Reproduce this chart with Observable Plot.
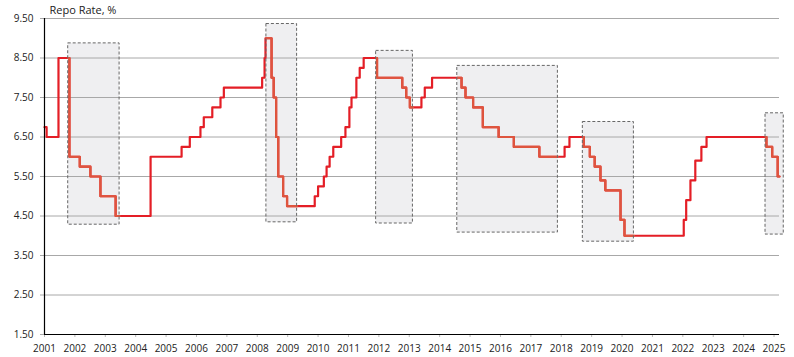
<!DOCTYPE html>
<html>
<head>
<meta charset="utf-8">
<script src="https://cdn.jsdelivr.net/npm/d3@7"></script>
<script src="https://cdn.jsdelivr.net/npm/@observablehq/plot@0.6"></script>
<style>
  html, body { margin: 0; padding: 0; background: #fff; }
  #chart { width: 794px; height: 357px; overflow: hidden; }
</style>
</head>
<body>
<div id="chart"></div>
<script>
// Step dates (decimal year on the chart axis) and repo rate (%) from each date on
const stepYears = [2001.00, 2001.07, 2001.46, 2001.82, 2002.16, 2002.51, 2002.84, 2003.34, 2004.49,
  2005.51, 2005.78, 2006.13, 2006.24, 2006.52, 2006.79, 2006.90,
  2008.16, 2008.24, 2008.27, 2008.47, 2008.54, 2008.62, 2008.69, 2008.85, 2008.98,
  2009.89, 2010.00, 2010.19, 2010.28, 2010.38, 2010.50, 2010.76, 2010.90, 2011.03, 2011.10, 2011.26, 2011.37, 2011.50,
  2011.94, 2012.77, 2012.90, 2013.02, 2013.40, 2013.51, 2013.75,
  2014.72, 2014.85, 2015.10, 2015.42, 2015.94, 2016.44, 2017.28,
  2018.11, 2018.27, 2018.74, 2018.94, 2019.10, 2019.29, 2019.45, 2019.95, 2020.08,
  2022.03, 2022.11, 2022.25, 2022.41, 2022.61, 2022.78,
  2024.75, 2024.94, 2025.12, 2025.18];
const stepRates = [6.75, 6.50, 8.50, 6.00, 5.75, 5.50, 5.00, 4.50, 6.00,
  6.25, 6.50, 6.75, 7.00, 7.25, 7.50, 7.75,
  8.00, 8.50, 9.00, 8.00, 7.50, 6.50, 5.50, 5.00, 4.75,
  5.00, 5.25, 5.50, 5.75, 6.00, 6.25, 6.50, 6.75, 7.25, 7.50, 8.00, 8.25, 8.50,
  8.00, 7.75, 7.50, 7.25, 7.50, 7.75, 8.00,
  7.75, 7.50, 7.25, 6.75, 6.50, 6.25, 6.00,
  6.25, 6.50, 6.25, 6.00, 5.75, 5.40, 5.15, 4.40, 4.00,
  4.40, 4.90, 5.40, 5.90, 6.25, 6.50,
  6.25, 6.00, 5.50, 5.50];

// Shaded easing periods (dashed boxes)
const boxStart = [2001.78, 2008.30, 2011.91, 2014.58, 2018.71, 2024.72];
const boxEnd   = [2003.47, 2009.31, 2013.12, 2017.89, 2020.39, 2025.32];
const boxLow   = [4.28, 4.34, 4.31, 4.08, 3.85, 4.03];
const boxHigh  = [8.87, 9.36, 8.68, 8.30, 6.88, 7.10];

const yTicks = [1.5, 2.5, 3.5, 4.5, 5.5, 6.5, 7.5, 8.5, 9.5];
const xTicks = d3.range(2001, 2026);
const title = "Repo Rate, %";

const series = stepYears.map((t, i) => ({t, r: stepRates[i]}));
const boxes = boxStart.map((s, i) => ({x1: s, x2: boxEnd[i], y1: boxLow[i], y2: boxHigh[i]}));

// rate in force at time t (step-after)
function rateAt(t) {
  let r = stepRates[0];
  for (let i = 0; i < stepYears.length; i++) if (stepYears[i] <= t) r = stepRates[i];
  return r;
}
const tEnd = stepYears[stepYears.length - 1];
// portions of the series that lie inside each box
const inBox = boxes.flatMap((b, k) => {
  const a = b.x1, e = Math.min(b.x2, tEnd);
  const pts = [{t: a, r: rateAt(a), k}];
  series.forEach(p => { if (p.t > a && p.t < e) pts.push({t: p.t, r: p.r, k}); });
  pts.push({t: e, r: rateAt(e), k});
  return pts;
});

const chart = Plot.plot({
  width: 794,
  height: 357,
  marginLeft: 44,
  marginRight: 15,
  marginTop: 18,
  marginBottom: 23,
  style: {fontFamily: "'Open Sans', sans-serif", fontSize: "10px", color: "#222", background: "#fff"},
  x: {domain: [2001, 2025.18], label: null},
  y: {domain: [1.5, 9.5], label: null},
  marks: [
    Plot.rect(boxes, {x1: "x1", x2: "x2", y1: "y1", y2: "y2", fill: "#efeff1"}),
    Plot.gridY(yTicks.slice(1), {stroke: "#a8a8a8", strokeOpacity: 1, strokeWidth: 1}),
    Plot.axisY(yTicks, {tickFormat: d3.format(".2f"), tickSize: 4, tickPadding: 7, stroke: "#a8a8a8", fill: "#222", label: null}),
    Plot.axisX(xTicks, {tickFormat: d => String(d), tickSize: 3, tickPadding: 7, stroke: "#b8b8b8", fill: "#222", label: null}),
    Plot.line(series, {x: "t", y: "r", curve: "step-after", stroke: "#e41e26", strokeWidth: 2.2}),
    Plot.line(inBox, {x: "t", y: "r", z: "k", curve: "step-after", stroke: "#de553e", strokeWidth: 2.2}),
    Plot.rect(boxes, {x1: "x1", x2: "x2", y1: "y1", y2: "y2", fill: "none",
      stroke: "#666", strokeWidth: 1, strokeDasharray: "3,2"}),
    Plot.ruleX([2001], {y1: 1.5, y2: 9.5, stroke: "#000", strokeWidth: 1.2}),
    Plot.ruleY([1.5], {stroke: "#000", strokeWidth: 1.2}),
    Plot.text([title], {frameAnchor: "top-left", dx: 5, dy: -5, lineAnchor: "bottom", textAnchor: "start",
      fontSize: 11, fill: "#222"})
  ]
});
document.getElementById("chart").appendChild(chart);
</script>
</body>
</html>
